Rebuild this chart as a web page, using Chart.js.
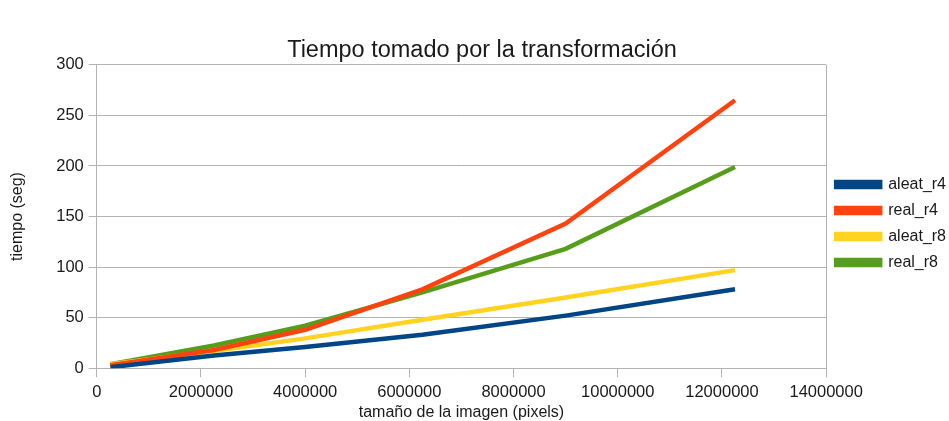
<!DOCTYPE html>
<html>
<head>
<meta charset="utf-8">
<script src="https://cdn.jsdelivr.net/npm/chart.js@4"></script>
<style>
  body { margin: 0; background: #fff; }
  #wrap { width: 949px; height: 421px; }
</style>
</head>
<body>
<div id="wrap"><canvas id="myChart"></canvas></div>
<script>
// image sizes in pixels (512^2 ... 3500^2)
const sizes = [262144, 2250000, 4000000, 6250000, 9000000, 12250000];
const aleatR4 = [1, 12.5, 21, 33, 52, 78];
const realR4 = [3, 18, 38, 78, 143, 265];
const aleatR8 = [4, 17, 29.5, 48, 70, 97];
const realR8 = [4, 22.5, 42, 75, 118, 199];
const xTicks = [0, 2000000, 4000000, 6000000, 8000000, 10000000, 12000000, 14000000];

const font = "'Liberation Sans', Arial, sans-serif";
const grey = "#b3b3b3";

function pts(vals) {
  return vals.map((v, i) => ({ x: sizes[i], y: v }));
}

function series(label, vals, color) {
  return {
    label: label,
    data: pts(vals),
    borderColor: color,
    backgroundColor: color,
    borderWidth: 4.5,
    pointRadius: 0,
    showLine: true,
    tension: 0,
  };
}

const ctx = document.getElementById("myChart");

new Chart(ctx, {
  type: "scatter",
  data: {
    datasets: [
      series("aleat_r4", aleatR4, "#004586"),
      series("real_r4", realR4, "#ff420e"),
      series("aleat_r8", aleatR8, "#ffd320"),
      series("real_r8", realR8, "#579d1c"),
    ],
  },
  options: {
    responsive: true,
    maintainAspectRatio: false,
    animation: false,
    layout: { padding: { top: 19, left: 8, right: -7, bottom: 2 } },
    plugins: {
      title: {
        display: true,
        text: "Tiempo tomado por la transformación",
        color: "#1a1a1a",
        font: { family: font, size: 23.5, weight: "normal", lineHeight: 1.1 },
        padding: { top: 19, bottom: 1 },
      },
      legend: {
        position: "right",
        // empty title only nudges the entries down a little
        title: { display: true, text: "", padding: 0, font: { size: 7.5, lineHeight: 1.2 } },
        labels: {
          color: "#1a1a1a",
          font: { family: font, size: 16 },
          boxWidth: 44,
          boxHeight: 5,
          padding: 10,
        },
      },
      tooltip: { enabled: false },
    },
    scales: {
      x: {
        type: "linear",
        min: 0,
        max: 14000000,
        afterBuildTicks: (axis) => {
          axis.ticks = xTicks.map((v) => ({ value: v }));
        },
        ticks: {
          color: "#1a1a1a",
          font: { family: font, size: 16.5, lineHeight: 1.2 },
          maxRotation: 0,
          padding: 5,
          callback: (v) => String(v),
        },
        grid: {
          color: (c) => (c.tick && c.tick.value === 14000000 ? grey : "transparent"),
          tickColor: grey,
          tickLength: 9,
        },
        border: { color: grey },
        title: {
          display: true,
          text: "tamaño de la imagen (pixels)",
          color: "#1a1a1a",
          font: { family: font, size: 16, lineHeight: 0.75 },
          padding: { top: 0, bottom: 0 },
        },
      },
      y: {
        min: 0,
        max: 300,
        ticks: {
          stepSize: 50,
          color: "#1a1a1a",
          font: { family: font, size: 16.5 },
          padding: 5,
        },
        grid: { color: grey, tickLength: 8 },
        border: { color: grey },
        title: {
          display: true,
          text: "tiempo (seg)",
          color: "#1a1a1a",
          font: { family: font, size: 16 },
          padding: { top: 0, bottom: 24 },
        },
      },
    },
  },
});
</script>
</body>
</html>
